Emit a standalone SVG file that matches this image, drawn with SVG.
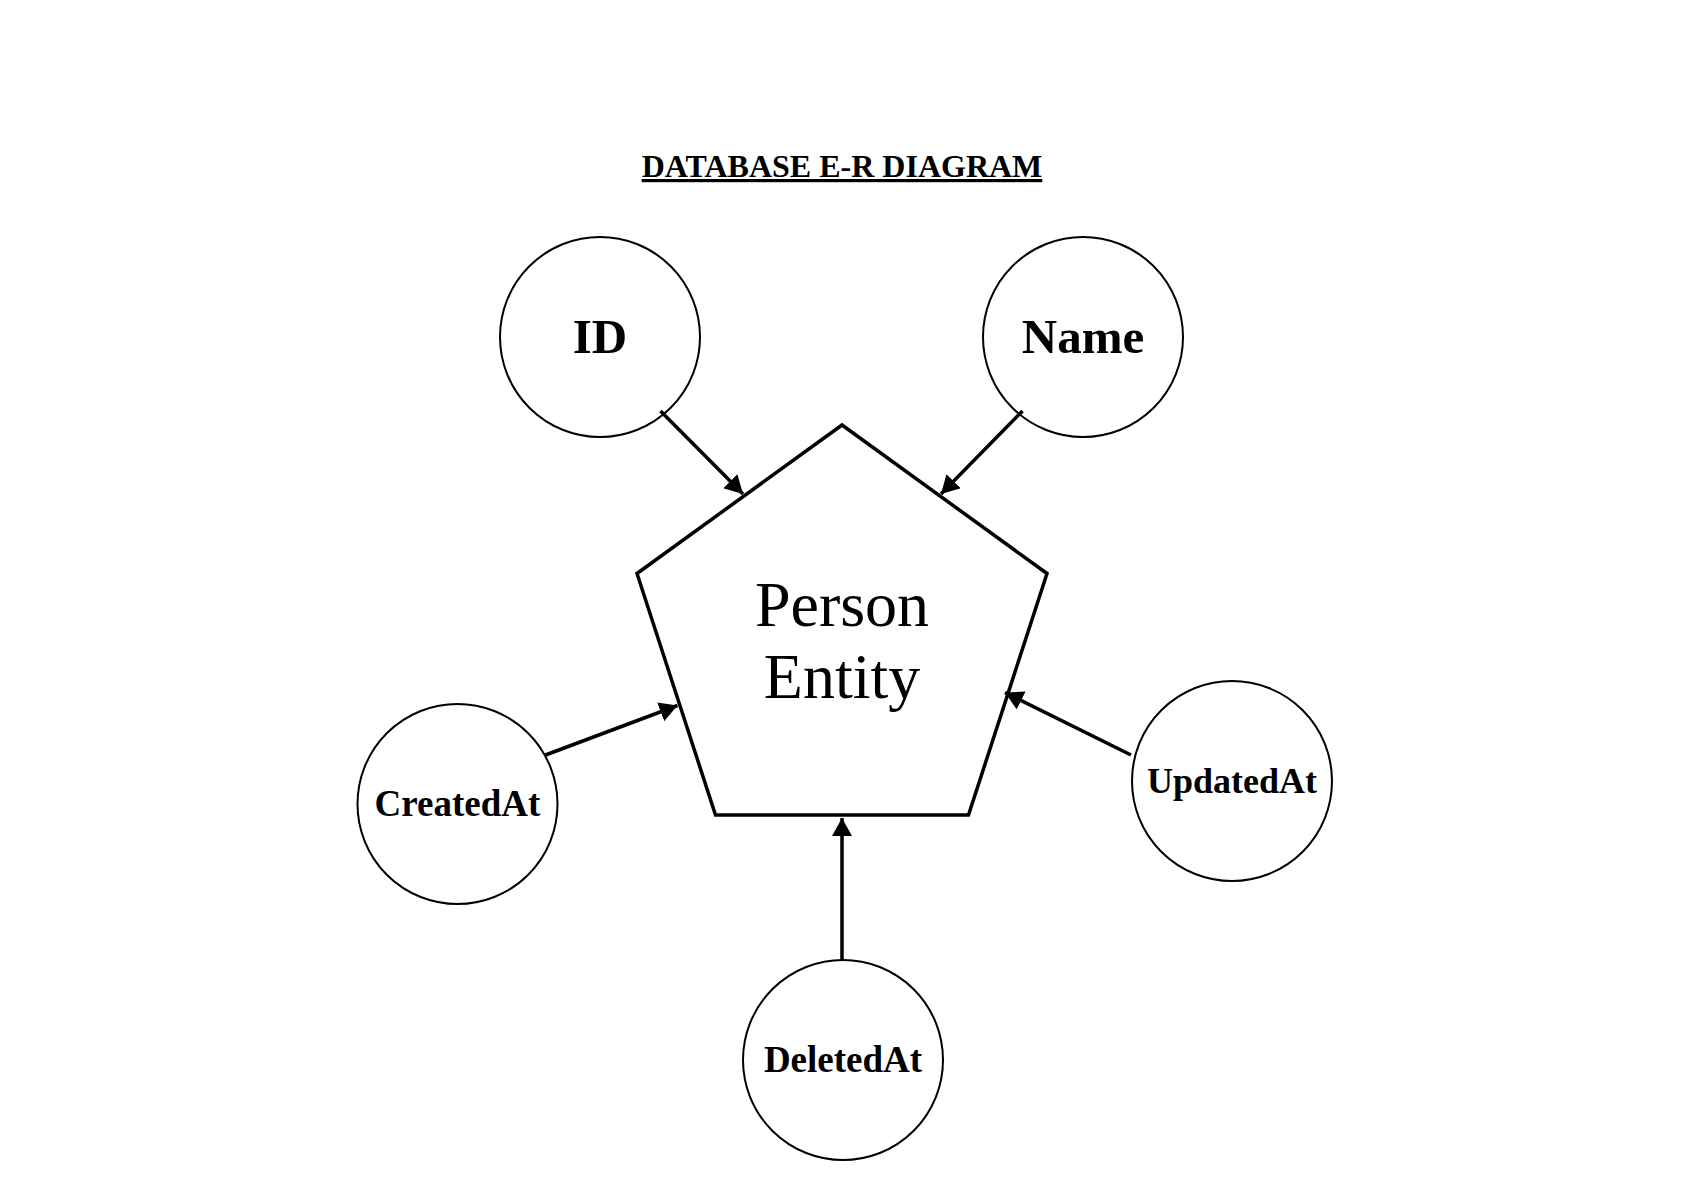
<svg xmlns="http://www.w3.org/2000/svg" width="1684" height="1190" viewBox="0 0 1684 1190">
<style>
.attr{fill:#fff;stroke:#000;stroke-width:2}
.lbl{font-family:"Liberation Serif","Times New Roman",serif;font-weight:bold;text-anchor:middle;fill:#000}
.ent{fill:#fff;stroke:#000;stroke-width:3.5}
.conn{stroke:#000;stroke-width:3.5;fill:none;marker-end:url(#arr)}
</style>
<defs>
<marker id="arr" markerUnits="userSpaceOnUse" markerWidth="20" markerHeight="22" refX="18" refY="10" orient="auto">
<path d="M0,0 L18,10 L0,20 z" fill="#000"/>
</marker>
</defs>
<rect width="1684" height="1190" fill="#fff"/>
<text x="842" y="177" class="lbl" font-size="32" text-decoration="underline">DATABASE E-R DIAGRAM</text>
<g id="person-entity">
<polygon class="ent" points="842,425 1047,573.5 968.5,815 715.5,815 637,573.5"/>
<text x="842" y="626" font-family="Liberation Serif,Times New Roman,serif" font-size="64" text-anchor="middle">Person</text>
<text x="842" y="698" font-family="Liberation Serif,Times New Roman,serif" font-size="64" text-anchor="middle">Entity</text>
</g>
<g id="attr-id">
<circle class="attr" cx="600" cy="337" r="100"/>
<text x="600" y="353" class="lbl" font-size="49">ID</text>
</g>
<g id="attr-name">
<circle class="attr" cx="1083" cy="337" r="100"/>
<text x="1083" y="353" class="lbl" font-size="49">Name</text>
</g>
<g id="attr-createdat">
<circle class="attr" cx="457.5" cy="804" r="100"/>
<text x="457.5" y="816" class="lbl" font-size="37">CreatedAt</text>
</g>
<g id="attr-updatedat">
<circle class="attr" cx="1232" cy="781" r="100"/>
<text x="1232" y="793" class="lbl" font-size="36">UpdatedAt</text>
</g>
<g id="attr-deletedat">
<circle class="attr" cx="843" cy="1060" r="100"/>
<text x="843" y="1072" class="lbl" font-size="37">DeletedAt</text>
</g>
<g id="connectors">
<line class="conn" x1="660.5" y1="411" x2="743" y2="494"/>
<line class="conn" x1="1022.5" y1="411" x2="941" y2="494"/>
<line class="conn" x1="545.5" y1="755" x2="677.5" y2="705.5"/>
<line class="conn" x1="1131" y1="755" x2="1005" y2="692.5"/>
<line class="conn" x1="842" y1="960" x2="842" y2="818"/>
</g>
</svg>
